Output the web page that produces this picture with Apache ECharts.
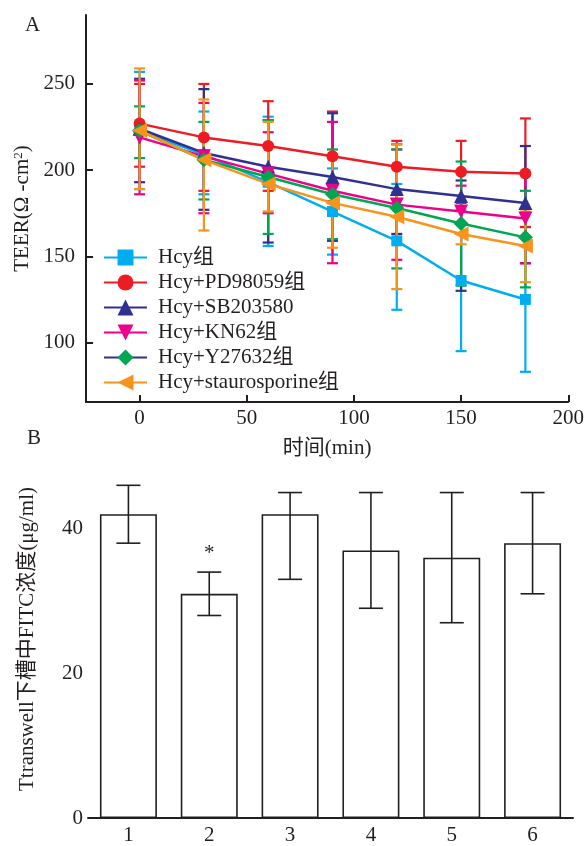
<!DOCTYPE html>
<html>
<head>
<meta charset="utf-8">
<script src="https://cdn.jsdelivr.net/npm/echarts@6/dist/echarts.min.js"></script>
<style>
html, body { margin: 0; padding: 0; background: #fff; }
#main { width: 587px; height: 846px; }
</style>
</head>
<body>
<div id="main"></div>
<script>
// panel A: TEER over time
const times = [0, 30, 60, 90, 120, 150, 180];
const groupNames = ['Hcy组', 'Hcy+PD98059组', 'Hcy+SB203580', 'Hcy+KN62组', 'Hcy+Y27632组', 'Hcy+staurosporine组'];

const hcyMean = [223, 209, 193, 176, 159, 136, 125];
const hcyHi = [257, 234, 231, 201, 192, 177, 167];
const hcyLo = [189, 186, 156, 151, 119, 95, 83];

const pdMean = [227, 219, 214, 208, 202, 199, 198];
const pdHi = [250, 250, 240, 234, 217, 217, 230];
const pdLo = [202, 188, 188, 182, 187, 181, 167];

const sbMean = [224, 210, 202, 196, 189, 185, 181];
const sbHi = [253, 247, 229, 233, 215, 194, 214];
const sbLo = [193, 177, 158, 159, 163, 130, 146];

const knMean = [219, 208, 198, 188, 180, 176, 172];
const knHi = [252, 239, 222, 228, 212, 191, 198];
const knLo = [186, 175, 175, 146, 148, 163, 146];

const yMean = [223, 206, 196, 186, 178, 169, 161];
const yHi = [237, 228, 229, 212, 212, 205, 188];
const yLo = [207, 183, 163, 160, 143, 133, 132];

const stMean = [223, 206, 192, 181, 173, 163, 156];
const stHi = [259, 241, 228, 208, 215, 169, 176];
const stLo = [189, 165, 176, 155, 131, 157, 135];

const xTicksA = [0, 50, 100, 150, 200];
const yTicksA = [100, 150, 200, 250];

// panel B: FITC in lower chamber
const barCats = ['1', '2', '3', '4', '5', '6'];
const barMeans = [42, 31, 42, 37, 36, 38];
const barHi = [46, 34, 45, 45, 45, 45];
const barLo = [38, 28, 33, 29, 27, 31];
const barMarks = ['', '*', '', '', '', ''];
const yTicksB = [0, 20, 40];

const FONT = '"Liberation Serif", "Noto Sans CJK SC", serif';
const INK = '#231f20';

const groups = [
  { mean: hcyMean, hi: hcyHi, lo: hcyLo, color: '#00aeef', symbol: 'rect', size: 11, rot: 0 },
  { mean: pdMean, hi: pdHi, lo: pdLo, color: '#ed1c24', symbol: 'circle', size: 12, rot: 0 },
  { mean: sbMean, hi: sbHi, lo: sbLo, color: '#2e3192', symbol: 'triangle', size: 14, rot: 0 },
  { mean: knMean, hi: knHi, lo: knLo, color: '#ec008c', symbol: 'triangle', size: 14, rot: 180 },
  { mean: yMean, hi: yHi, lo: yLo, color: '#00a651', symbol: 'diamond', size: 15, rot: 0 },
  { mean: stMean, hi: stHi, lo: stLo, color: '#f7941d', symbol: 'triangle', size: 15, rot: 90 }
];

function errorBar(color, capW, lw) {
  return function (params, api) {
    const top = api.coord([api.value(0), api.value(2)]);
    const bot = api.coord([api.value(0), api.value(1)]);
    const style = { stroke: color, lineWidth: lw };
    const children = [
      { type: 'line', shape: { x1: top[0], y1: top[1], x2: bot[0], y2: bot[1] }, style: style },
      { type: 'line', shape: { x1: top[0] - capW / 2, y1: top[1], x2: top[0] + capW / 2, y2: top[1] }, style: style },
      { type: 'line', shape: { x1: bot[0] - capW / 2, y1: bot[1], x2: bot[0] + capW / 2, y2: bot[1] }, style: style }
    ];
    const mark = api.value(3);
    if (mark) {
      children.push({
        type: 'text',
        style: { text: mark, x: top[0], y: top[1] - 8, align: 'center', verticalAlign: 'bottom',
          fontSize: 21, fontFamily: FONT, fill: INK }
      });
    }
    return { type: 'group', children: children };
  };
}

const series = [];
groups.forEach(function (g, i) {
  series.push({
    type: 'custom',
    xAxisIndex: 0, yAxisIndex: 0,
    z: 2,
    renderItem: errorBar(g.color, 11, 2.2),
    data: times.map(function (t, k) { return [t, g.lo[k], g.hi[k]]; })
  });
});
groups.forEach(function (g, i) {
  series.push({
    name: groupNames[i],
    type: 'line',
    xAxisIndex: 0, yAxisIndex: 0,
    z: 3,
    data: times.map(function (t, k) { return [t, g.mean[k]]; }),
    symbol: g.symbol,
    symbolSize: g.size,
    symbolRotate: g.rot,
    color: g.color,
    lineStyle: { width: 2.5, color: g.color },
    itemStyle: { color: g.color },
    emphasis: { disabled: true }
  });
});
series.push({
  type: 'bar',
  xAxisIndex: 1, yAxisIndex: 1,
  data: barMeans,
  barWidth: 57,
  itemStyle: { color: '#fff', borderColor: INK, borderWidth: 1.6 },
  z: 2
});
series.push({
  type: 'custom',
  xAxisIndex: 1, yAxisIndex: 1,
  z: 3,
  renderItem: errorBar(INK, 24, 1.6),
  data: barCats.map(function (c, k) { return [k, barLo[k], barHi[k], barMarks[k]]; })
});

const axisText = { fontSize: 21, fontFamily: FONT, color: INK };

const option = {
  animation: false,
  backgroundColor: '#fff',
  textStyle: { fontFamily: FONT },
  grid: [
    { left: 86, right: 18, top: 15, bottom: 444 },
    { left: 88, right: 14, top: 460, bottom: 26 }
  ],
  legend: {
    orient: 'vertical',
    left: 103,
    top: 247,
    padding: 0,
    itemWidth: 43,
    itemHeight: 20,
    itemGap: 4,
    textStyle: { fontSize: 21, fontFamily: FONT, color: INK, lineHeight: 21, padding: [0, 0, 0, 6] },
    data: groupNames.map(function (n, i) {
      return i === 4 ? { name: n, lineStyle: { color: '#2e3192' } } : { name: n };
    })
  },
  xAxis: [
    {
      type: 'value', gridIndex: 0, min: -25, max: 200,
      name: '时间(min)', nameLocation: 'middle', nameGap: 36,
      nameTextStyle: axisText,
      axisLine: { onZero: false, lineStyle: { color: INK, width: 2 } },
      axisTick: { inside: true, length: 7, customValues: xTicksA, lineStyle: { color: INK, width: 2 } },
      axisLabel: Object.assign({ margin: 6, customValues: xTicksA }, axisText),
      splitLine: { show: false }
    },
    {
      type: 'category', gridIndex: 1, data: barCats,
      axisLine: { onZero: false, lineStyle: { color: INK, width: 2 } },
      axisTick: { show: false },
      axisLabel: Object.assign({ margin: 7 }, axisText)
    }
  ],
  yAxis: [
    {
      type: 'value', gridIndex: 0, min: 65.5, max: 290,
      name: 'TEER(Ω -cm{sup|2})', nameLocation: 'middle', nameGap: 50,
      nameTextStyle: Object.assign({
        rich: { sup: { fontSize: 13, fontFamily: FONT, color: INK, verticalAlign: 'top', padding: [0, 0, 8, 0] } }
      }, axisText),
      axisLine: { onZero: false, lineStyle: { color: INK, width: 2 } },
      axisTick: { inside: true, length: 7, customValues: yTicksA, lineStyle: { color: INK, width: 2 } },
      axisLabel: Object.assign({ margin: 11, customValues: yTicksA }, axisText),
      splitLine: { show: false }
    },
    {
      type: 'value', gridIndex: 1, min: 0, max: 49.5,
      name: 'Ttranswell下槽中FITC浓度(μg/ml)', nameLocation: 'middle', nameGap: 50,
      nameTextStyle: axisText,
      axisLine: { onZero: false, lineStyle: { color: INK, width: 2 } },
      axisTick: { inside: true, length: 7, customValues: yTicksB, lineStyle: { color: INK, width: 2 } },
      axisLabel: Object.assign({ margin: 5, customValues: yTicksB }, axisText),
      splitLine: { show: false }
    }
  ],
  graphic: [
    { type: 'text', left: 25, top: 15, style: { text: 'A', fontSize: 21, fontFamily: FONT, fill: INK } },
    { type: 'text', left: 27, top: 428, style: { text: 'B', fontSize: 21, fontFamily: FONT, fill: INK } }
  ],
  series: series
};

const chart = echarts.init(document.getElementById('main'));
chart.setOption(option);
</script>
</body>
</html>
